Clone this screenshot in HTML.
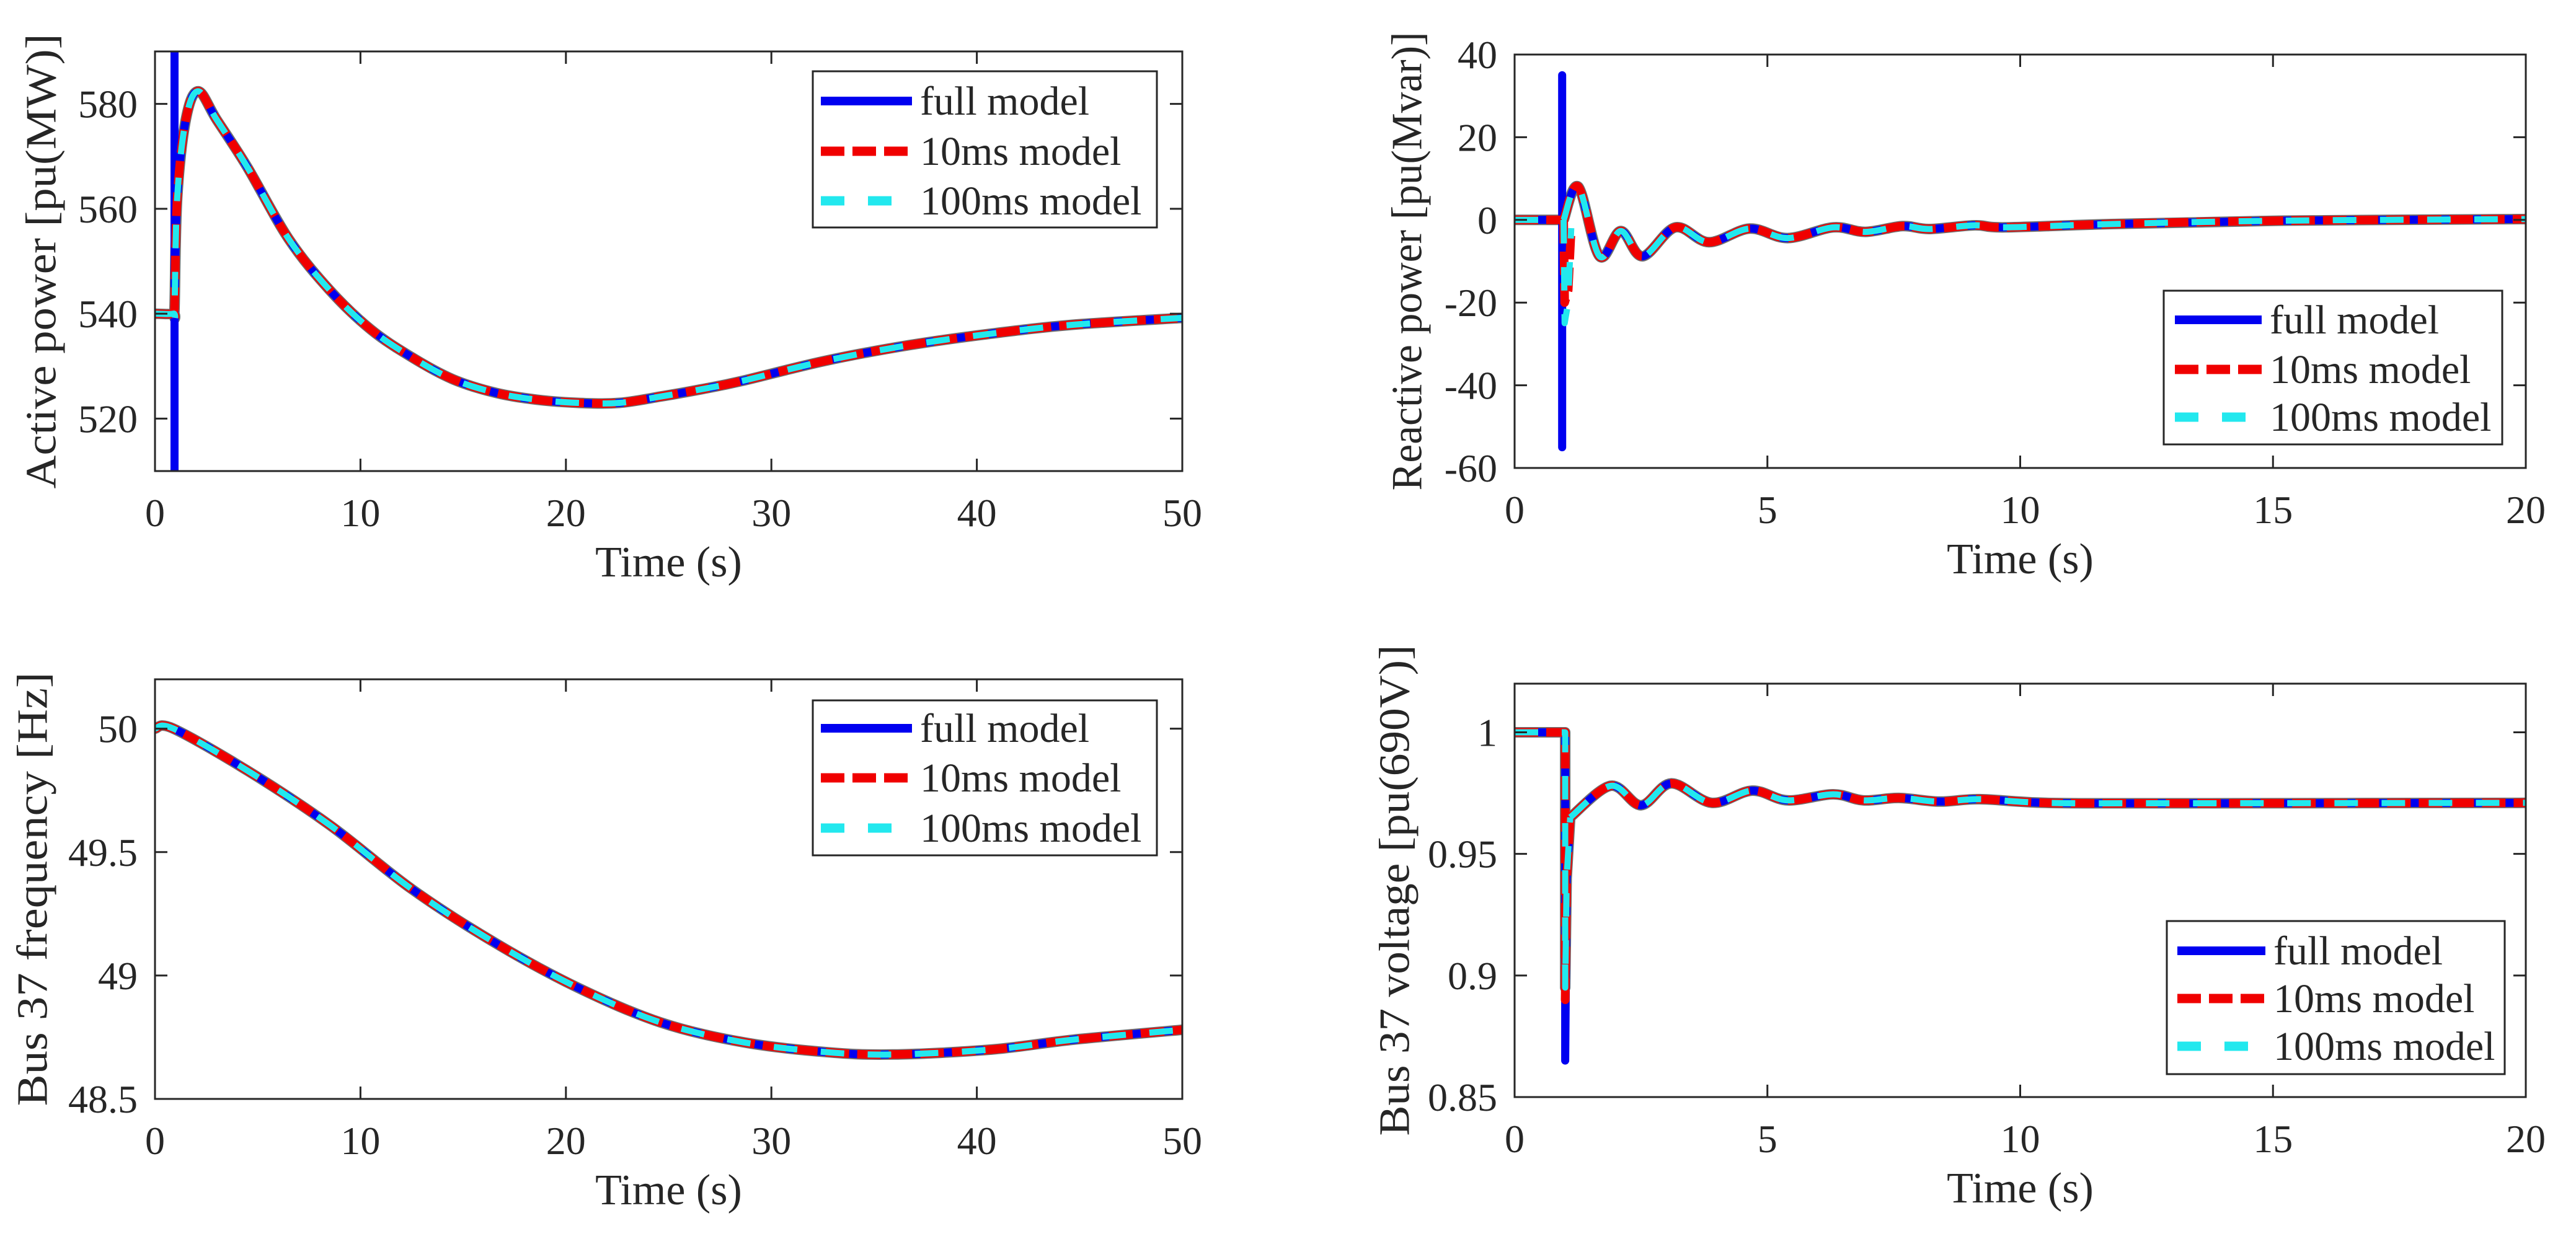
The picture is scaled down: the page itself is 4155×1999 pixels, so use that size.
<!DOCTYPE html>
<html><head><meta charset="utf-8">
<style>
html,body{margin:0;padding:0;background:#fff;}
svg{display:block;}
text{font-family:"Liberation Serif","Times New Roman",serif;fill:#262626;}
</style></head>
<body>
<svg id="fig" width="4155" height="1999" viewBox="0 0 4155 1999" xmlns="http://www.w3.org/2000/svg"></svg>
<script>
// ---- Panel 1: Active power ----
const p1Time = [0,0.9,0.95,1.08,1.5,2.1,3,4.5,6.5,8.5,10.5,12.5,14.5,16.6,18.6,20.6,22.6,24.6,26.6,28.6,32.6,36.7,40.7,44.7,50];
const p1Power = [540,540,541,562,577,582.4,577,567.9,554.3,544.5,537,531.7,527.5,524.9,523.6,523,523,524.2,525.6,527.2,531,534,536.2,537.9,539.2];
const p1SpikeTime = [0.95,0.95];
const p1SpikeVal = [600,500];
const p1XTicks = [0,10,20,30,40,50];
const p1YTicks = [520,540,560,580];
// ---- Panel 2: Reactive power ----
const p2Time = [0,0.97,1.26,1.68,2.1,2.53,3.18,3.84,4.65,5.4,6.3,6.94,7.67,8.2,9.1,9.7,11.8,15.1,20];
const p2Val = [0,0,8,-8.8,-2.7,-8.8,-1.8,-5.4,-2.1,-4.4,-1.8,-2.9,-1.5,-2.2,-1.3,-1.8,-1,-0.2,0.2];
const p2FullSpikeVal = [35,-55];
const p2RedDip = -20;
const p2CyanDip = -25;
const p2XTicks = [0,5,10,15,20];
const p2YTicks = [-60,-40,-20,0,20,40];
// ---- Panel 3: Frequency ----
const p3Time = [0,0.9,4.5,8.5,12.5,16.6,20.6,24.6,28.6,32.6,35.9,40.7,44.7,50];
const p3Freq = [50,50,49.83,49.61,49.35,49.13,48.95,48.81,48.73,48.69,48.68,48.70,48.74,48.78];
const p3XTicks = [0,10,20,30,40,50];
const p3YTicks = [48.5,49,49.5,50];
// ---- Panel 4: Voltage ----
const p4Time = [1.1,1.9,2.5,3.1,3.9,4.7,5.4,6.3,6.9,7.6,8.4,9.2,10.5,13,20];
const p4Volt = [0.965,0.978,0.970,0.979,0.971,0.976,0.972,0.9745,0.972,0.973,0.9715,0.9725,0.971,0.9708,0.971];
const p4Before = 1.0;
const p4FullDip = 0.865;
const p4RedDip = 0.89;
const p4CyanDip = 0.895;
const p4XTicks = [0,5,10,15,20];
const p4YTicks = [0.85,0.9,0.95,1];

const NS="http://www.w3.org/2000/svg";
const svg=document.getElementById('fig');
function mk(tag,attrs,parent){const e=document.createElementNS(NS,tag);for(const k in attrs)e.setAttribute(k,attrs[k]);(parent||svg).appendChild(e);return e;}
function smoothPath(pts){
  let d='M'+pts[0][0].toFixed(1)+','+pts[0][1].toFixed(1);
  for(let i=0;i<pts.length-1;i++){
    const p0=pts[i-1]||pts[i],p1=pts[i],p2=pts[i+1],p3=pts[i+2]||p2;
    const c1=[p1[0]+(p2[0]-p0[0])/6,p1[1]+(p2[1]-p0[1])/6];
    const c2=[p2[0]-(p3[0]-p1[0])/6,p2[1]-(p3[1]-p1[1])/6];
    d+=' C'+c1[0].toFixed(1)+','+c1[1].toFixed(1)+' '+c2[0].toFixed(1)+','+c2[1].toFixed(1)+' '+p2[0].toFixed(1)+','+p2[1].toFixed(1);
  }
  return d;
}
function linePath(pts){return pts.map((p,i)=>(i?'L':'M')+p[0].toFixed(1)+','+p[1].toFixed(1)).join(' ');}
const STY={
 full:{stroke:'#0000f0',w:13,dash:'none',lw:14},
 r10:{stroke:'#f00000',w:14,dash:'38 13',lw:15},
 r100:{stroke:'#22e8ee',w:10,dash:'38 38',lw:15}
};
let clipN=0;
function panel(c){
  const g=mk('g',{});
  
  
  const W=c.x1-c.x0,H=c.y1-c.y0;
  const X=v=>c.x0+(v-c.xmin)/(c.xmax-c.xmin)*W;
  const Y=v=>c.y1-(v-c.ymin)/(c.ymax-c.ymin)*H;
  mk('rect',{x:c.x0,y:c.y0,width:W,height:H,fill:'#fff'},g);
  const id='clip'+(clipN++);
  const cp=mk('clipPath',{id:id},g);mk('rect',{x:c.x0,y:c.y0,width:W,height:H},cp);
  const pg=mk('g',{'clip-path':'url(#'+id+')'},g);
  c.series(pg,X,Y);
  const box=mk('rect',{x:c.x0,y:c.y0,width:W,height:H,fill:'none',stroke:'#262626','stroke-width':3},g);
  
  
  c.xticks.forEach(v=>{
    const x=X(v);
    mk('line',{x1:x,x2:x,y1:c.y1,y2:c.y1-20,stroke:'#262626','stroke-width':3},g);
    mk('line',{x1:x,x2:x,y1:c.y0,y2:c.y0+20,stroke:'#262626','stroke-width':3},g);
    const t=mk('text',{x:x,y:c.y1+89,'font-size':64,'text-anchor':'middle'},g);
    
    
    t.textContent=String(v);
  });
  c.yticks.forEach(v=>{
    const y=Y(v);
    mk('line',{x1:c.x0,x2:c.x0+20,y1:y,y2:y,stroke:'#262626','stroke-width':3},g);
    mk('line',{x1:c.x1,x2:c.x1-20,y1:y,y2:y,stroke:'#262626','stroke-width':3},g);
    const t=mk('text',{x:c.x0-28,y:y+22,'font-size':64,'text-anchor':'end'},g);
    
    
    t.textContent=String(v);
  });
  const xt=mk('text',{x:(c.x0+c.x1)/2,y:c.y1+170,'font-size':70,'text-anchor':'middle'},g);
  
  
  xt.textContent='Time (s)';
  const yc=(c.y0+c.y1)/2;
  const yt=mk('text',{x:0,y:0,'font-size':70,'text-anchor':'middle','dominant-baseline':'central',transform:'translate('+c.ylx+','+yc+') rotate(-90)',textLength:c.yll,lengthAdjust:'spacingAndGlyphs'},g);
  
  
  yt.textContent=c.ylabel;
  const L=c.leg;
  const lg=mk('g',{},g);
  
  
  mk('rect',{x:L.x0,y:L.y0,width:L.x1-L.x0,height:L.y1-L.y0,fill:'#fff',stroke:'#262626','stroke-width':3},lg);
  const labels=['full model','10ms model','100ms model'];
  ['full','r10','r100'].forEach((k,i)=>{
    const s=STY[k],y=L.rows[i];
    const e=mk('g',{},lg);
    
    
    mk('line',{x1:L.sx0,x2:L.sx1,y1:y,y2:y,stroke:s.stroke,'stroke-width':s.lw,'stroke-dasharray':s.dash},e);
    const t=mk('text',{x:L.tx,y:y+22,'font-size':66},e);
    t.textContent=labels[i];
  });
}
function drawSeries(pg,X,Y,ptsByModel,names,under){
  if(under){
    const u=mk('path',{d:under(X,Y),fill:'none',stroke:'#707070','stroke-width':17,'stroke-linejoin':'round'},pg);
    
    
  }
  ['full','r10','r100'].forEach(k=>{
    const s=STY[k];
    const p=mk('path',{d:ptsByModel[k](X,Y),fill:'none',stroke:s.stroke,'stroke-width':s.w,'stroke-dasharray':s.dash,'stroke-linejoin':'round','stroke-linecap':k==='full'?'round':'butt'},pg);
    
    
  });
}
const NAMES={full:'full-model-line',r10:'10ms-model-line',r100:'100ms-model-line'};
// Panel 1
panel({name:'active-power-panel',x0:250,x1:1907,y0:83,y1:760,xmin:0,xmax:50,ymin:510,ymax:590,
 xticks:p1XTicks,yticks:p1YTicks,ylabel:'Active power [pu(MW)]',ylx:67,yll:734,
 leg:{x0:1311,x1:1866,y0:115,y1:367,rows:[163,244,324],sx0:1324,sx1:1471,tx:1484},
 series:(pg,X,Y)=>{
   const main=(X,Y)=>smoothPath(p1Time.map((t,i)=>[X(t),Y(p1Power[i])]));
   drawSeries(pg,X,Y,{
     full:(X,Y)=>main(X,Y)+' '+linePath(p1SpikeTime.map((t,i)=>[X(t),Y(p1SpikeVal[i])])),
     r10:main,r100:main},NAMES,main);
 }});
// Panel 2
panel({name:'reactive-power-panel',x0:2443,x1:4074,y0:88,y1:755,xmin:0,xmax:20,ymin:-60,ymax:40,
 xticks:p2XTicks,yticks:p2YTicks,ylabel:'Reactive power [pu(Mvar)]',ylx:2270,yll:740,
 leg:{x0:3490,x1:4036,y0:469,y1:717,rows:[516,596,673],sx0:3508,sx1:3648,tx:3661},
 series:(pg,X,Y)=>{
   const tail=(X,Y)=>smoothPath(p2Time.slice(1).map((t,i)=>[X(t),Y(p2Val[i+1])]));
   const start=(X,Y)=>linePath([[X(p2Time[0]),Y(p2Val[0])],[X(p2Time[1]),Y(p2Val[1])]]);
   drawSeries(pg,X,Y,{
     full:(X,Y)=>start(X,Y)+' '+linePath([[X(0.94),Y(p2FullSpikeVal[0])],[X(0.94),Y(p2FullSpikeVal[1])]])+' '+tail(X,Y),
     r10:(X,Y)=>start(X,Y)+' '+linePath([[X(p2Time[1]),Y(0)],[X(0.99),Y(p2RedDip)],[X(1.06),Y(p2RedDip+3)],[X(1.12),Y(-2)]])+' '+tail(X,Y),
     r100:(X,Y)=>start(X,Y)+' '+linePath([[X(p2Time[1]),Y(0)],[X(0.99),Y(p2CyanDip)],[X(1.06),Y(p2CyanDip+5)],[X(1.12),Y(-2)]])+' '+tail(X,Y)
   },NAMES,(X,Y)=>start(X,Y)+' '+tail(X,Y));
 }});
// Panel 3
panel({name:'frequency-panel',x0:250,x1:1907,y0:1096,y1:1773,xmin:0,xmax:50,ymin:48.5,ymax:50.2,
 xticks:p3XTicks,yticks:p3YTicks,ylabel:'Bus 37 frequency [Hz]',ylx:53,yll:700,
 leg:{x0:1311,x1:1866,y0:1130,y1:1380,rows:[1175,1255,1336],sx0:1324,sx1:1471,tx:1484},
 series:(pg,X,Y)=>{
   const main=(X,Y)=>smoothPath(p3Time.map((t,i)=>[X(t),Y(p3Freq[i])]));
   drawSeries(pg,X,Y,{full:main,r10:main,r100:main},NAMES,main);
 }});
// Panel 4
panel({name:'voltage-panel',x0:2443,x1:4074,y0:1103,y1:1770,xmin:0,xmax:20,ymin:0.85,ymax:1.02,
 xticks:p4XTicks,yticks:p4YTicks,ylabel:'Bus 37 voltage [pu(690V)]',ylx:2250,yll:792,
 leg:{x0:3495,x1:4040,y0:1486,y1:1733,rows:[1534,1611,1688],sx0:3512,sx1:3654,tx:3667},
 series:(pg,X,Y)=>{
   const tail=(X,Y)=>smoothPath(p4Time.map((t,i)=>[X(t),Y(p4Volt[i])]));
   const mkS=dip=>(X,Y)=>linePath([[X(0),Y(p4Before)],[X(1),Y(p4Before)],[X(1),Y(dip)],[X(1.03),Y(0.94)],[X(p4Time[0]),Y(p4Volt[0])]])+' '+tail(X,Y);
   drawSeries(pg,X,Y,{full:mkS(p4FullDip),r10:mkS(p4RedDip),r100:mkS(p4CyanDip)},NAMES,mkS(p4CyanDip));
 }});
</script>
</body></html>
